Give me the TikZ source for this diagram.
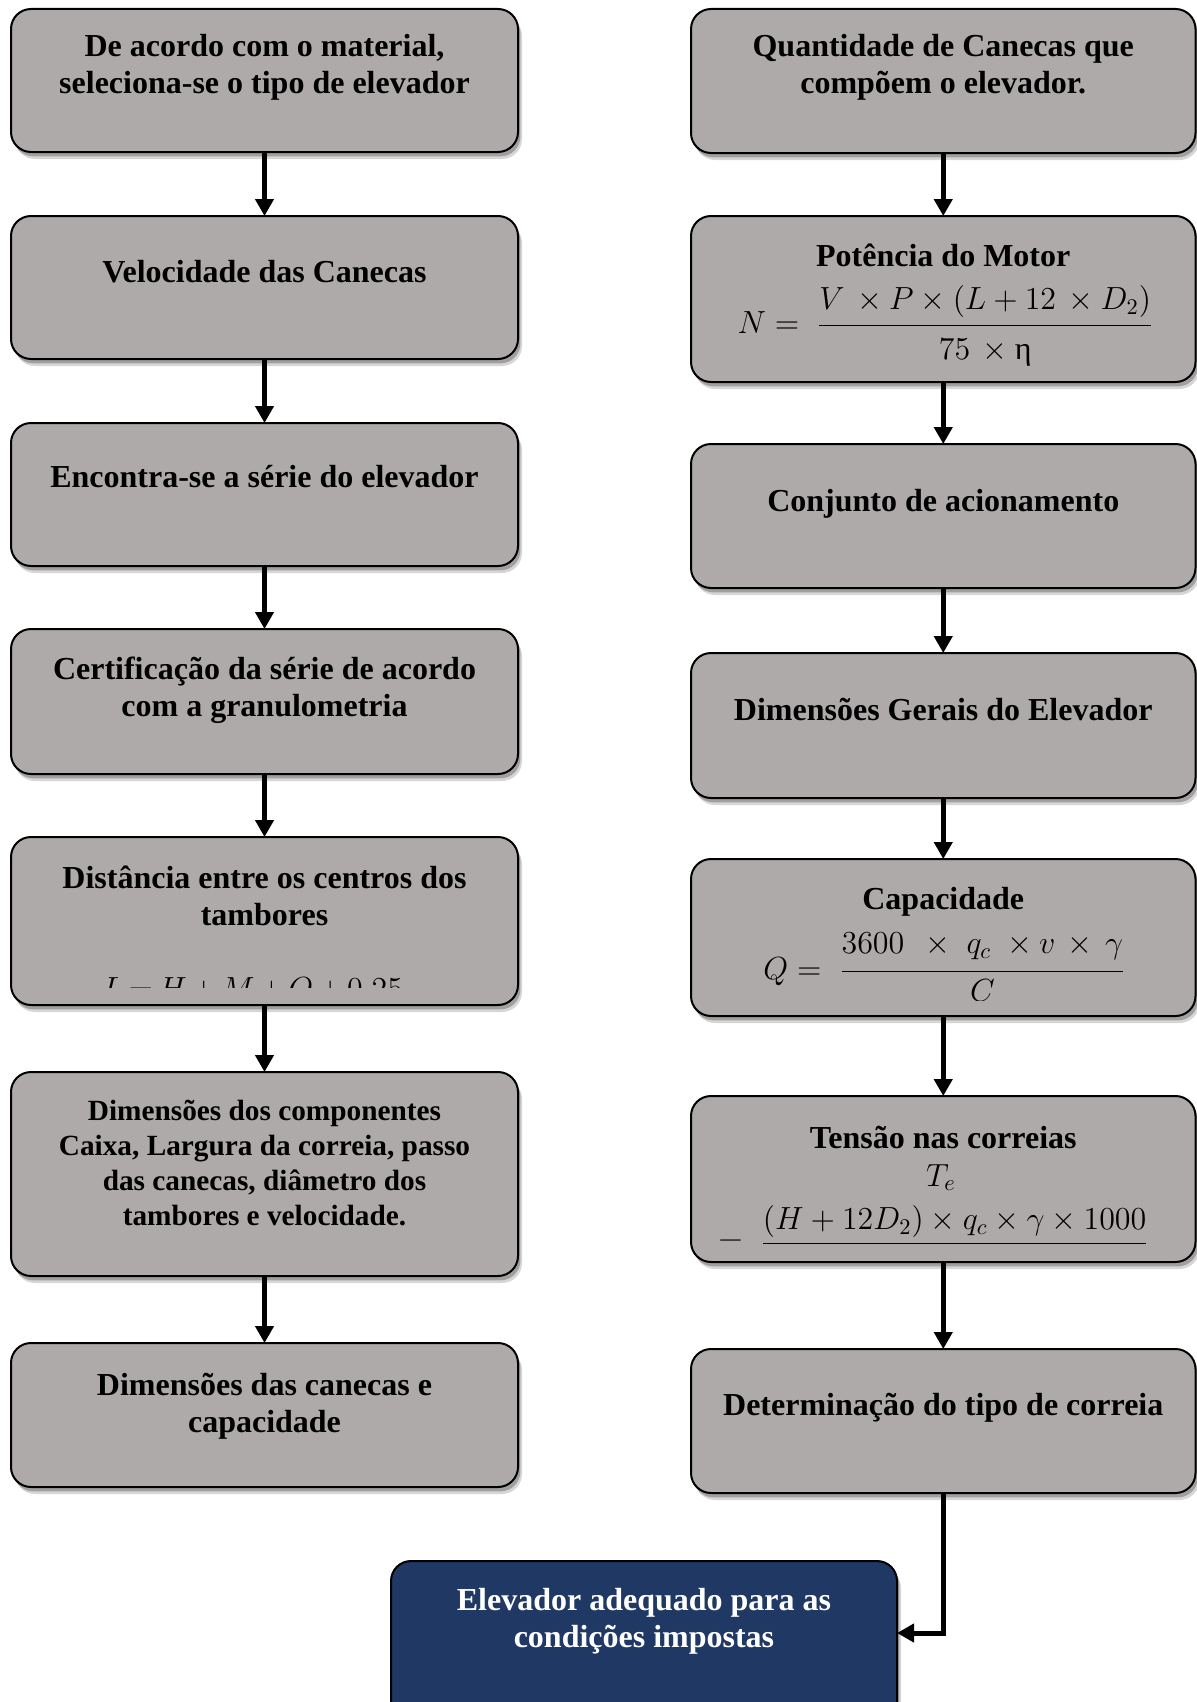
\RequirePackage{fix-cm}
\documentclass[tikz,border=0pt]{standalone}
\usepackage{amsmath}
\usepackage{fontspec}
\setmainfont{Liberation Serif}
\newfontfamily\upgreek{Liberation Serif}
\usetikzlibrary{arrows.meta,shadows,calc}

\definecolor{boxgray}{HTML}{AEAAAA}
\definecolor{navy}{HTML}{1F3864}

\tikzset{
  stepbox/.style={draw=black, line width=1pt, rounded corners=10pt, fill=boxgray,
    outer sep=0pt, inner sep=0pt,
    drop shadow={shadow xshift=2pt, shadow yshift=-3.5pt, opacity=0.16, fill=black},
    drop shadow={shadow xshift=1.2pt, shadow yshift=-2.2pt, opacity=0.25, fill=black}},
  endbox/.style={stepbox, fill=navy},
  boxtext/.style={font=\fontsize{16}{18.6}\selectfont\bfseries, align=center,
    inner sep=0pt, text=black},
  smalltext/.style={boxtext, font=\fontsize{14.65}{17.5}\selectfont\bfseries},
  eqtext/.style={font=\fontsize{16}{19}\selectfont, inner sep=0pt, anchor=base},
  flow/.style={line width=2.5pt, -{Triangle[length=8.5pt,width=9pt]}},
}

\begin{document}
\begin{tikzpicture}[x=0.5pt, y=-0.5pt]
\useasboundingbox (0,0) rectangle (1197,1702);

% left column
\node[stepbox, minimum width=253.5pt, minimum height=71.5pt] (L1) at (264.5,80.5) {};
\node[stepbox, minimum width=253.5pt, minimum height=71.5pt] (L2) at (264.5,287.5) {};
\node[stepbox, minimum width=253.5pt, minimum height=71.5pt] (L3) at (264.5,494.5) {};
\node[stepbox, minimum width=253.5pt, minimum height=72.5pt] (L4) at (264.5,701.5) {};
\node[stepbox, minimum width=253.5pt, minimum height=84pt]   (L5) at (264.5,921) {};
\node[stepbox, minimum width=253.5pt, minimum height=102pt]  (L6) at (264.5,1174) {};
\node[stepbox, minimum width=253.5pt, minimum height=72pt]   (L7) at (264.5,1415) {};

% right column
\node[stepbox, minimum width=252.25pt, minimum height=72pt]   (R1) at (943.25,81) {};
\node[stepbox, minimum width=252.25pt, minimum height=83pt]   (R2) at (943.25,299) {};
\node[stepbox, minimum width=252.25pt, minimum height=72pt]   (R3) at (943.25,516) {};
\node[stepbox, minimum width=252.25pt, minimum height=72.5pt] (R4) at (943.25,725.5) {};
\node[stepbox, minimum width=252.25pt, minimum height=78.5pt] (R5) at (943.25,937.5) {};
\node[stepbox, minimum width=252.25pt, minimum height=83pt]   (R6) at (943.25,1179) {};
\node[stepbox, minimum width=252.25pt, minimum height=72pt]   (R7) at (943.25,1421) {};

% final result
\node[endbox, minimum width=253pt, minimum height=84.5pt] (B) at (644,1645.5) {};

% box titles
\node[boxtext] (tL1) at ($(L1.north)+(0,58)$) {De acordo com o material,\\seleciona-se o tipo de elevador};
\node[boxtext] (tL2) at ($(L2.north)+(0,56)$) {Velocidade das Canecas};
\node[boxtext] (tL3) at ($(L3.north)+(0,54)$) {Encontra-se a série do elevador};
\node[boxtext] (tL4) at ($(L4.north)+(0,61.5)$) {Certificação da série de acordo\\com a granulometria};
\node[boxtext] (tL5) at ($(L5.north)+(0,59)$) {Distância entre os centros dos\\tambores};
\node[smalltext] (tL6) at ($(L6.north)+(0,90.5)$) {Dimensões dos componentes\\Caixa, Largura da correia, passo\\das canecas, diâmetro dos\\tambores e velocidade.};
\node[boxtext] (tL7) at ($(L7.north)+(0,63)$) {Dimensões das canecas e\\capacidade};

\node[boxtext] (tR1) at ($(R1.north)+(0,58)$) {Quantidade de Canecas que\\compõem o elevador.};
\node[boxtext] (tR2) at ($(R2.north)+(0,39)$) {Potência do Motor};
\node[boxtext] (tR3) at ($(R3.north)+(0,60)$) {Conjunto de acionamento};
\node[boxtext] (tR4) at ($(R4.north)+(0,56)$) {Dimensões Gerais do Elevador};
\node[boxtext] (tR5) at ($(R5.north)+(0,42.5)$) {Capacidade};
\node[boxtext] (tR6) at ($(R6.north)+(0,41)$) {Tensão nas correias};
\node[boxtext] (tR7) at ($(R7.north)+(0,58.5)$) {Determinação do tipo de correia};

\node[boxtext, text=white] (tB) at ($(B.north)+(0,60)$) {Elevador adequado para as\\condições impostas};

% formulas
\node[eqtext] (fN) at (945.5,333.3)
  {$N =\; \dfrac{\raisebox{1.1pt}{$V\,\times P\times(L+12\,\times D_2)$}}{\raisebox{-2.2pt}{$75\,\times\mbox{\upgreek η}$}}$};

\begin{scope}
  \clip ($(L5.north west)+(2,2)$) rectangle ($(L5.south east)+(-2,-18)$);
  \node[eqtext] (fL) at (252.5,999)
    {\medmuskip=2.7mu \thickmuskip=3mu $L = H + M + O + 0{,}25$};
\end{scope}

\begin{scope}
  \clip ($(R5.north west)+(2,2)$) rectangle ($(R5.south east)+(-2,-16)$);
  \node[eqtext] (fQ) at (944.5,979.3)
    {$Q =\; \dfrac{\raisebox{2.2pt}{$3600\;\,\times\;q_c\;\times v\,\times\,\gamma$}}{C}$};
\end{scope}

\node[eqtext] (fT) at (941,1186) {$T_e$};
\begin{scope}
  \clip ($(R6.north west)+(2,2)$) rectangle ($(R6.south east)+(-2,-18.2)$);
  \node[eqtext] (fTe) at (933.5,1251.5)
    {$=\; \dfrac{(H+12D_2)\times q_c\times\gamma\times 1000}{}$};
\end{scope}

% connectors
\draw[flow] (L1.south) -- (L2.north);
\draw[flow] (L2.south) -- (L3.north);
\draw[flow] (L3.south) -- (L4.north);
\draw[flow] (L4.south) -- (L5.north);
\draw[flow] (L5.south) -- (L6.north);
\draw[flow] (L6.south) -- (L7.north);

\draw[flow] (R1.south) -- (R2.north);
\draw[flow] (R2.south) -- (R3.north);
\draw[flow] (R3.south) -- (R4.north);
\draw[flow] (R4.south) -- (R5.north);
\draw[flow] (R5.south) -- (R6.north);
\draw[flow] (R6.south) -- (R7.north);

\coordinate (Bin) at ($(B.north east)+(0,72)$);
\draw[flow] (R7.south) |- (Bin);
\end{tikzpicture}
\end{document}
